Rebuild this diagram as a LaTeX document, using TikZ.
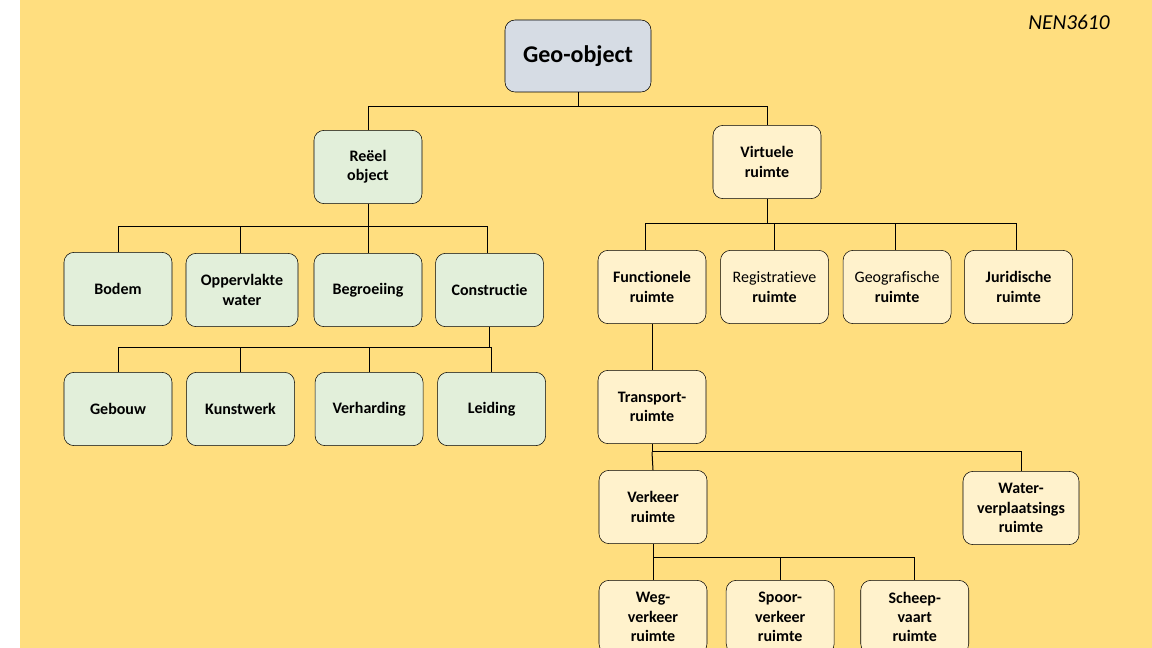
\documentclass[tikz,border=0pt]{standalone}
\usepackage{fontspec}
\setmainfont{Carlito}[Ligatures=NoCommon]
\usepackage{tikz}
\usetikzlibrary{positioning}
\definecolor{bgyellow}{HTML}{FFDE7F}
\definecolor{realgreen}{HTML}{E2EFDA}
\definecolor{virtyellow}{HTML}{FFF2CC}
\definecolor{rootgrey}{HTML}{D6DCE4}
\tikzset{auto, x=0.75pt, y=-0.75pt, node distance=10.5pt, font=\fontsize{12}{14.5}\selectfont\bfseries}
\tikzstyle{box} = [draw, rectangle, rounded corners=7.5pt, minimum width=81pt, minimum height=55pt, text centered, align=center, inner sep=2pt]
\tikzstyle{real} = [box, fill=realgreen]
\tikzstyle{virt} = [box, fill=virtyellow]
\tikzstyle{root} = [box, fill=rootgrey, minimum width=109.5pt, minimum height=54pt, font=\fontsize{18}{20}\selectfont\bfseries]
\tikzstyle{link} = [draw, line width=0.75pt]
\tikzstyle{norm} = [font=\fontsize{16}{18}\selectfont\itshape]

\begin{document}
\begin{tikzpicture}
    \useasboundingbox (0,0) rectangle (1152,648);
    \clip (0,0) rectangle (1152,648);
    \fill [bgyellow] (20,0) rectangle (1152,648);
    \node [norm] (nen) at (1069,22) {NEN3610};

    % top
    \node [root] (geo) at (578,56) {Geo-object};
    \node [real] (reel) at (368,167) {Reëel\\object};
    \node [virt] (virtuele) at (767,162) {Virtuele\\ruimte};

    % reeel object
    \node [real] (bodem) at (118,289) {Bodem};
    \node [real, minimum width=84pt] (opp) at (242,290) {Oppervlakte\\water};
    \node [real] (begroeiing) at (368,290) {Begroeiing};
    \node [real, right=9.75pt of begroeiing] (constructie) {Constructie};
    \node [real] (gebouw) at (118,409) {Gebouw};
    \node [real, right=of gebouw] (kunstwerk) {Kunstwerk};
    \node [real, right=15pt of kunstwerk] (verharding) {Verharding};
    \node [real, right=of verharding] (leiding) {Leiding};

    % virtuele ruimte
    \node [virt] (functionele) at (652,287) {Functionele\\ruimte};
    \node [virt, right=of functionele] (registratieve) {{\mdseries Registratieve}\\ruimte};
    \node [virt, right=of registratieve] (geografische) {{\mdseries Geografische}\\ruimte};
    \node [virt, right=9.75pt of geografische] (juridische) {Juridische\\ruimte};
    \node [virt] (transport) at (652,407) {Transport-\\ruimte};
    \node [virt] (verkeer) at (653,507) {Verkeer\\ruimte};
    \node [virt, minimum width=87pt] (water) at (1021,508) {Water-\\verplaatsings\\ruimte};
    \node [virt] (weg) at (653,617) {Weg-\\verkeer\\ruimte};
    \node [virt, right=14pt of weg] (spoor) {Spoor-\\verkeer\\ruimte};
    \node [virt, right=19.5pt of spoor] (scheep) {Scheep-\\vaart\\ruimte};

    \draw [link] (geo.south) -- ++(0,14) coordinate (geobus);
    \draw [link] (reel.north) |- (geobus) -| (virtuele.north);

    \draw [link] (reel.south) -- ++(0,23) coordinate (reelbus);
    \draw [link] (bodem.north) |- (reelbus) -| ([xshift=-1.5pt]constructie.north);
    \draw [link] ([xshift=-1.5pt]opp.north) -- ([xshift=-1.5pt]opp.north |- reelbus);
    \draw [link] (reelbus) -- (begroeiing.north);

    \draw [link] (constructie.south) -- ++(0,21) coordinate (conbus);
    \draw [link] (gebouw.north) |- (conbus) -| (leiding.north);
    \draw [link] (kunstwerk.north) -- (kunstwerk.north |- conbus);
    \draw [link] (verharding.north) -- (verharding.north |- conbus);

    \draw [link] (virtuele.south) -- ++(0,25) coordinate (virtbus);
    \draw [link] ([xshift=-5.25pt]functionele.north) |- (virtbus) -| ([xshift=-1.5pt]juridische.north);
    \draw [link] (registratieve.north) -- (registratieve.north |- virtbus);
    \draw [link] ([xshift=-1.5pt]geografische.north) -- ([xshift=-1.5pt]geografische.north |- virtbus);

    \draw [link] (functionele) -- (transport);

    \draw [link] (transport.south) -- ++(0,8) coordinate (transbus);
    \draw [link] (transbus) -- (verkeer.north);
    \draw [link] (transbus) -| (water.north);

    \draw [link] (verkeer.south) -- ++(0,14) coordinate (verkbus);
    \draw [link] (verkbus) -- (weg.north);
    \draw [link] (verkbus) -| (scheep.north);
    \draw [link] (spoor.north) -- (spoor.north |- verkbus);
\end{tikzpicture}
\end{document}
